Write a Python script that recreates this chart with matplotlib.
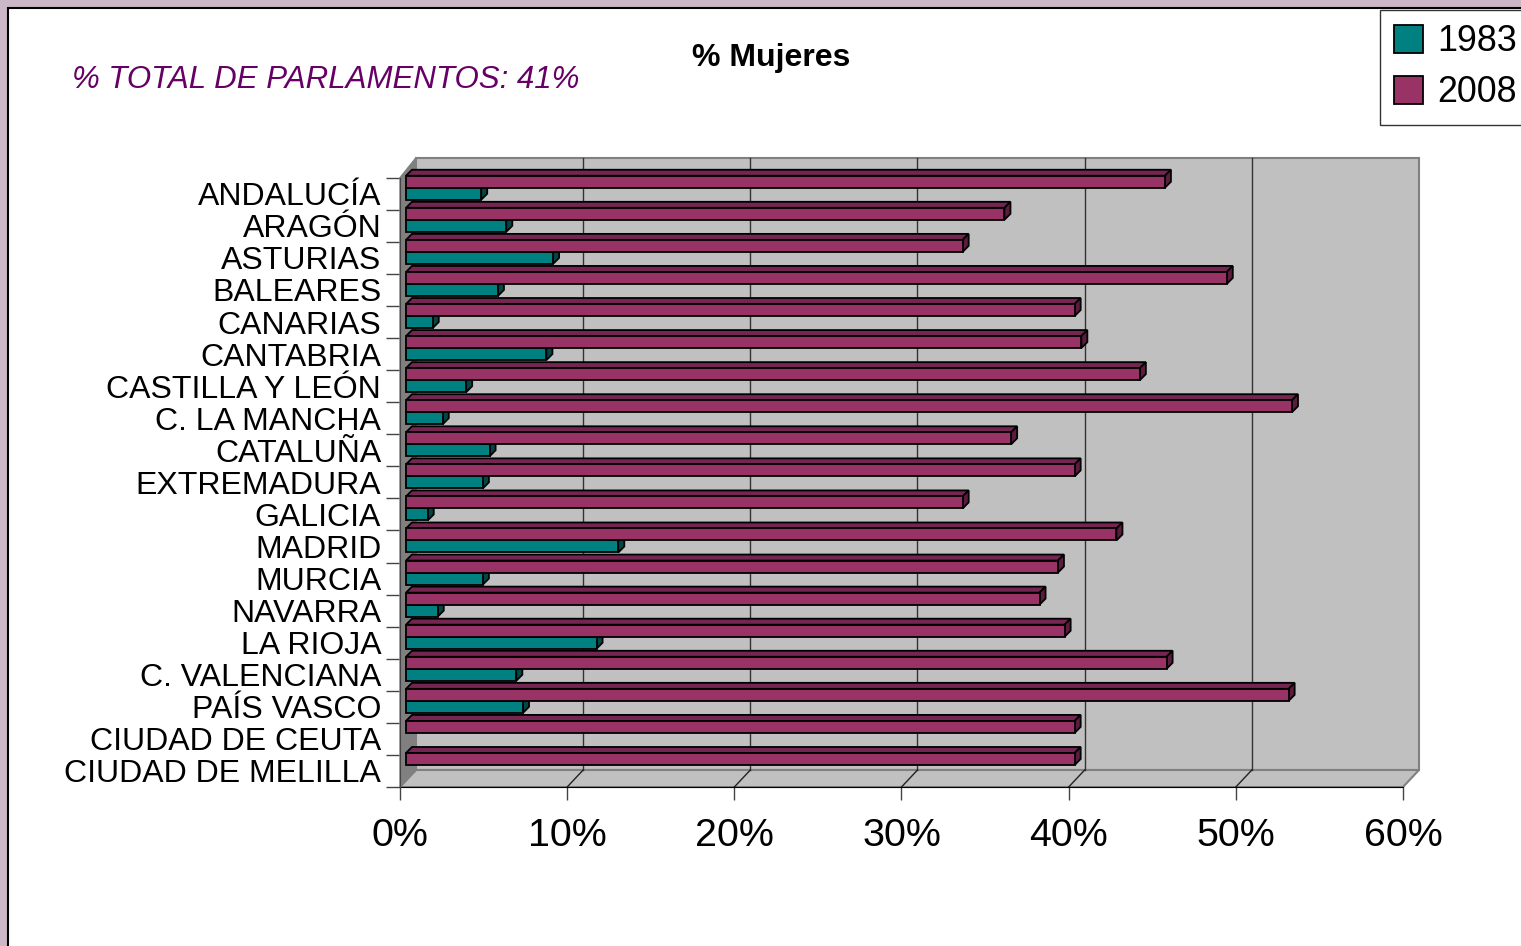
import numpy as np
import matplotlib
matplotlib.use("Agg")
import matplotlib.pyplot as plt
from matplotlib.patches import Polygon, Rectangle, Patch

plt.rcParams['font.family'] = ['Liberation Sans', 'DejaVu Sans']

# %%
# datos (% mujeres en parlamentos autonomicos)
regiones = ['ANDALUCÍA', 'ARAGÓN', 'ASTURIAS', 'BALEARES', 'CANARIAS', 'CANTABRIA',
            'CASTILLA Y LEÓN', 'C. LA MANCHA', 'CATALUÑA', 'EXTREMADURA', 'GALICIA',
            'MADRID', 'MURCIA', 'NAVARRA', 'LA RIOJA', 'C. VALENCIANA', 'PAÍS VASCO',
            'CIUDAD DE CEUTA', 'CIUDAD DE MELILLA']
mujeres_1983 = [4.5, 6.0, 8.8, 5.5, 1.6, 8.4, 3.6, 2.2, 5.0, 4.6, 1.3,
                12.7, 4.6, 1.9, 11.4, 6.6, 7.0, 0, 0]
mujeres_2008 = [45.4, 35.8, 33.3, 49.1, 40.0, 40.4, 43.9, 53.0, 36.2, 40.0, 33.3,
                42.5, 39.0, 37.9, 39.4, 45.5, 52.8, 40.0, 40.0]
series = ['1983', '2008']
xticks = [0, 10, 20, 30, 40, 50, 60]
xticklabels = ['0%', '10%', '20%', '30%', '40%', '50%', '60%']

# %%
W, H = 1521, 946
fig = plt.figure(figsize=(W / 100, H / 100), dpi=100)
fig.patch.set_facecolor('#cbb7c7')
fig.patches.append(Rectangle((8 / W, -0.1), 1.2, 1 - 8 / H + 0.1, transform=fig.transFigure,
                             facecolor='white', edgecolor='black', lw=1.5, zorder=-5))

ax = fig.add_axes([400 / W, (H - 787) / H, 1003 / W, (787 - 177.7) / H])
ax.set_zorder(2)
ax.set_xlim(0, 60)
n = len(regiones)
ax.set_ylim(n - 0.5, -0.5)
ax.patch.set_visible(False)


def shift(px, py):
    # desplazamiento en pixeles -> unidades de datos
    x0, y0 = ax.transData.transform((0, 0))
    return tuple(ax.transData.inverted().transform((x0 + px, y0 + py)))


dx, dy = shift(16, 17)      # profundidad de la pared
bx, by = shift(6, 6)        # profundidad de las barras
ytop, ybot = -0.5, n - 0.5
_, dy_top = shift(16, 20)

# pared del fondo
ax.add_patch(Polygon([(0 + dx, ytop + dy_top), (60 + dx, ytop + dy_top), (60 + dx, ybot + dy), (0 + dx, ybot + dy)],
                     closed=True, facecolor='#c0c0c0', edgecolor='#808080', lw=1.5, clip_on=False, zorder=1))
for x in xticks[1:-1]:
    ax.plot([x + dx, x + dx], [ytop + dy_top, ybot + dy], color='#333333', lw=1, clip_on=False, zorder=1.5)
# suelo
ax.add_patch(Polygon([(0, ybot), (60, ybot), (60 + dx, ybot + dy), (0 + dx, ybot + dy)],
                     closed=True, facecolor='#c0c0c0', edgecolor='#808080', lw=1.5, clip_on=False, zorder=1))
for x in xticks[1:-1]:
    ax.plot([x, x + dx], [ybot, ybot + dy], color='#222222', lw=1, clip_on=False, zorder=1.5)
# pared izquierda
ax.add_patch(Polygon([(0, ytop), (0, ybot), (0 + dx, ybot + dy), (0 + dx, ytop + dy_top)],
                     closed=True, facecolor='#808080', edgecolor='#808080', lw=1, clip_on=False, zorder=1.6))

# %%
h = 0.374
colores = {'1983': ('#008080', '#005c5c', '#004848'),
           '2008': ('#993366', '#742650', '#5a1d3e')}


def bar3d(y0, v, cols, z):
    front, top, side = cols
    if v <= 0:
        return
    p = [(0, y0), (v, y0), (v, y0 + h), (0, y0 + h)]
    ax.add_patch(Polygon([(a + bx, b + by) for a, b in [(0, y0), (v, y0)]] +
                         [(a + 2 * bx, b + 2 * by) for a, b in [(v, y0), (0, y0)]],
                         closed=True, facecolor=top, edgecolor='black', lw=1.3, clip_on=False, zorder=z))
    ax.add_patch(Polygon([(a + bx, b + by) for a, b in [(v, y0), (v, y0 + h)]] +
                         [(a + 2 * bx, b + 2 * by) for a, b in [(v, y0 + h), (v, y0)]],
                         closed=True, facecolor=side, edgecolor='black', lw=1.3, clip_on=False, zorder=z))
    ax.add_patch(Polygon([(a + bx, b + by) for a, b in p], closed=True,
                         facecolor=front, edgecolor='black', lw=1.3, clip_on=False, zorder=z))


for i in range(n):
    bar3d(i, mujeres_1983[i], colores['1983'], 2 + i * 0.01)
    bar3d(i - h, mujeres_2008[i], colores['2008'], 2.005 + i * 0.01)

# %%
# ejes
for s in ['top', 'right']:
    ax.spines[s].set_visible(False)
ax.spines['left'].set_color('#444444')
ax.spines['bottom'].set_color('black')
ax.spines['left'].set_zorder(3)
ax.set_xticks(xticks)
ax.set_xticklabels(xticklabels, fontsize=28.4)
ax.tick_params(axis='x', length=9, width=1, pad=13, color='#444444')
ax.set_yticks(np.arange(-0.5, n, 1.0))
ax.set_yticklabels([])
ax.tick_params(axis='y', which='major', length=10, width=1, color='#444444')
ax.set_yticks(np.arange(n), minor=True)
ax.set_yticklabels(regiones, minor=True, fontsize=23)
ax.tick_params(axis='y', which='minor', length=0, pad=13.5)

# titulos
fig.text(771 / W, 1 - 58 / H, '% Mujeres', ha='center', va='center', fontsize=23, fontweight='bold')
fig.text(72 / W, 1 - 80 / H, '% TOTAL DE PARLAMENTOS: 41%', ha='left', va='center',
         fontsize=22.5, style='italic', color='#660066')

# leyenda
handles = [Patch(facecolor=colores[s][0], edgecolor='black', lw=1.3, label=s) for s in series]
leg = fig.legend(handles=handles, loc='upper left', bbox_to_anchor=(1380 / W, 1 - 10 / H),
                 fontsize=25.8, frameon=True, fancybox=False, handlelength=0.8, handleheight=0.8,
                 handletextpad=0.4, borderpad=0.4, labelspacing=0.45, borderaxespad=0)
leg.get_frame().set_edgecolor('black')
leg.get_frame().set_linewidth(1)

fig.savefig('out.png', dpi=100, facecolor=fig.get_facecolor())
